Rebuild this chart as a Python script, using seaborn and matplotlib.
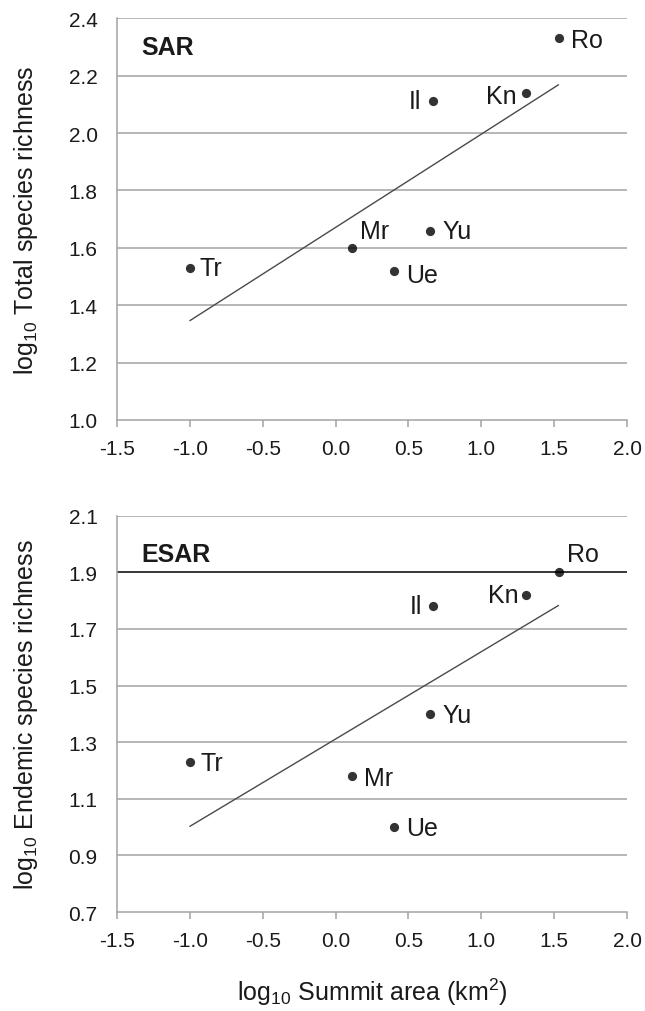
import matplotlib
matplotlib.use("Agg")
import matplotlib.pyplot as plt
import seaborn as sns
import pandas as pd
import numpy as np

sites = ["Tr", "Mr", "Ue", "Yu", "Il", "Kn", "Ro"]
log_area = [-1.00, 0.11, 0.40, 0.65, 0.67, 1.31, 1.53]
log_total = [1.53, 1.60, 1.52, 1.66, 2.11, 2.14, 2.33]
log_endemic = [1.23, 1.18, 1.00, 1.40, 1.78, 1.82, 1.90]

x_ticks = [-1.5, -1.0, -0.5, 0.0, 0.5, 1.0, 1.5, 2.0]
y_ticks_sar = [1.0, 1.2, 1.4, 1.6, 1.8, 2.0, 2.2, 2.4]
y_ticks_esar = [0.7, 0.9, 1.1, 1.3, 1.5, 1.7, 1.9, 2.1]

df = pd.DataFrame({"site": sites, "area": log_area, "total": log_total, "endemic": log_endemic})

sns.set_theme(style="white")
plt.rcParams["font.family"] = ["Liberation Sans", "DejaVu Sans"]
plt.rcParams["mathtext.fontset"] = "custom"
plt.rcParams["mathtext.rm"] = "Liberation Sans"
plt.rcParams["mathtext.it"] = "Liberation Sans"
plt.rcParams["mathtext.default"] = "regular"

fig = plt.figure(figsize=(6.45, 10.12), dpi=100)
ax1 = fig.add_axes([0.1814, 0.584, 0.7907, 0.397])
ax2 = fig.add_axes([0.1814, 0.0978, 0.7907, 0.3916])

grid_c = "#a3a3a3"
txt_c = "#1a1a1a"

# label offsets (points): (dx, dy, ha)
off_sar = {"Tr": (7, 0, "left"), "Mr": (6, 12, "left"),
           "Ue": (9, -3, "left"), "Yu": (9, 0, "left"),
           "Il": (-9, 0, "right"), "Kn": (-7, -2, "right"),
           "Ro": (9, -1, "left")}
off_esar = {"Tr": (8, -1, "left"), "Mr": (9, -1, "left"),
            "Ue": (9, -1, "left"), "Yu": (9, -1, "left"),
            "Il": (-8, 0, "right"), "Kn": (-6, 0, "right"),
            "Ro": (6, 13, "left")}

panels = [(ax1, "total", y_ticks_sar, "SAR", r"log$_{10}$ Total species richness", off_sar, 0.928),
          (ax2, "endemic", y_ticks_esar, "ESAR", r"log$_{10}$ Endemic species richness", off_esar, 0.904)]

for ax, col, yt, title, ylab, offs, ty in panels:
    ax.set_xlim(-1.5, 2.0)
    ax.set_ylim(yt[0], yt[-1])
    for v in yt[1:]:
        c = "#000000" if (col == "endemic" and abs(v - 1.9) < 1e-9) else grid_c
        ax.axhline(v, color=c, lw=1.1, zorder=0)
    sns.regplot(data=df, x="area", y=col, ax=ax, ci=None, truncate=True,
                scatter_kws=dict(s=44, color="black", zorder=3, linewidths=0),
                line_kws=dict(color="#4a4a4a", lw=1.0, zorder=2))
    for s, xv, yv in zip(df["site"], df["area"], df[col]):
        dx, dy, ha = offs[s]
        ax.annotate(s, (xv, yv), xytext=(dx, dy), textcoords="offset points",
                    ha=ha, va="center", fontsize=18, color=txt_c)
    ax.text(0.048, ty, title, transform=ax.transAxes, fontsize=18,
            fontweight="bold", color=txt_c, ha="left", va="center")
    ax.set_xticks(x_ticks)
    ax.set_xticklabels([f"{v:.1f}" for v in x_ticks])
    ax.set_yticks(yt)
    ax.set_yticklabels([f"{v:.1f}" for v in yt])
    ax.tick_params(axis="x", direction="out", length=5, width=1.1, color=grid_c,
                   labelsize=15, labelcolor=txt_c, pad=9, bottom=True)
    ax.tick_params(axis="y", length=0, labelsize=15, labelcolor=txt_c, pad=14)
    for sp in ["top", "right"]:
        ax.spines[sp].set_visible(False)
    for sp in ["left", "bottom"]:
        ax.spines[sp].set_visible(True)
        ax.spines[sp].set_color(grid_c)
        ax.spines[sp].set_linewidth(1.1)
    ax.set_ylabel(ylab, fontsize=18, color=txt_c)
    ax.yaxis.set_label_coords(-0.151, 0.5)
    ax.set_xlabel("")

ax2.set_xlabel(r"log$_{10}$ Summit area (km$^2$)", fontsize=18, color=txt_c)
ax2.xaxis.set_label_coords(0.5, -0.16)

fig.savefig("out.png", dpi=100)
